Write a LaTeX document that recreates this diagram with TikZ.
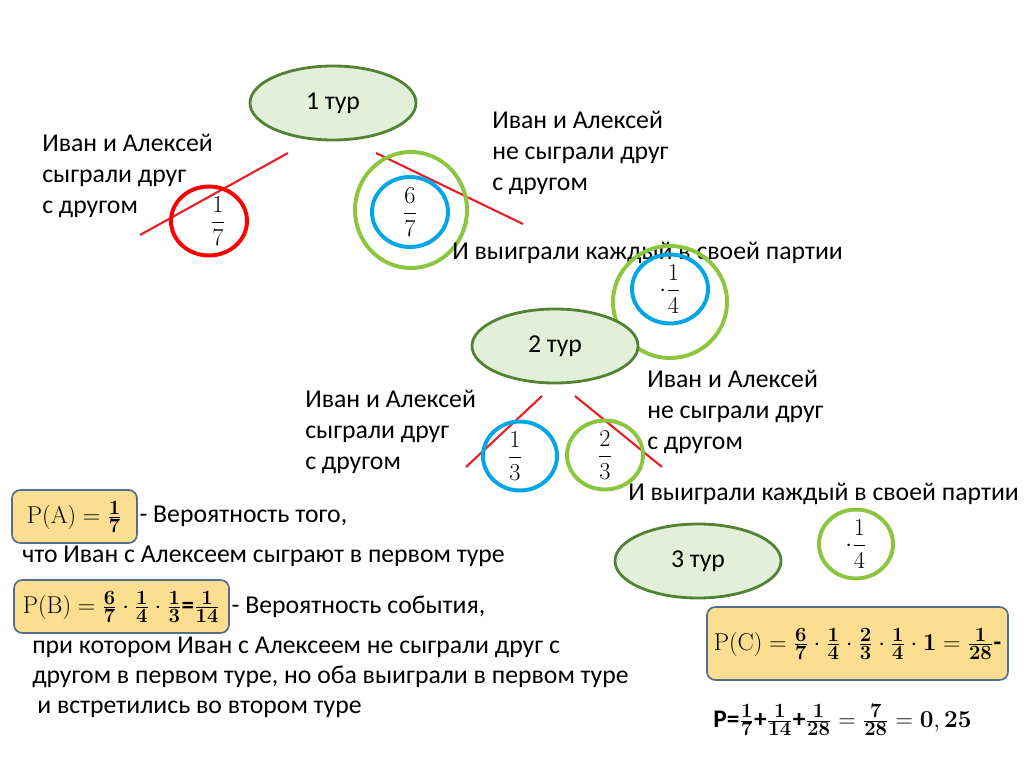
\documentclass[tikz,border=0pt]{standalone}
\usepackage{amsmath}
\usepackage[no-math]{fontspec}
\setmainfont{Carlito}
\usetikzlibrary{shapes.geometric,positioning}
\DeclareMathSizes{17.7}{17.28}{14.4}{10}
\DeclareMathSizes{18}{17.28}{14.4}{10}

\definecolor{turfill}{RGB}{226,240,217}
\definecolor{turrand}{RGB}{84,130,53}
\definecolor{gruen}{RGB}{140,198,63}
\definecolor{blau}{RGB}{0,166,230}
\definecolor{rot}{RGB}{255,0,0}
\definecolor{strichrot}{RGB}{232,30,36}
\definecolor{kastenfill}{RGB}{252,222,145}
\definecolor{kastenrand}{RGB}{84,110,140}

\tikzset{
	schrift/.style={font=\fontsize{18.3}{22}\selectfont},
	tur/.style={ellipse,draw=turrand,fill=turfill,line width=2pt,minimum width=4.15cm,minimum height=1.85cm,schrift},
	beschrift/.style={schrift,align=left,anchor=west,inner sep=0pt},
	kreis/.style={ellipse,line width=2.8pt,inner sep=0pt,font=\fontsize{18}{22}\selectfont},
	strich/.style={strichrot,line width=1.5pt},
	kasten/.style={draw=kastenrand,fill=kastenfill,rounded corners=6pt,line width=1.2pt,inner sep=0pt,font=\fontsize{17.7}{22}\selectfont},
}

\begin{document}
\begin{tikzpicture}[x=0.025cm,y=-0.025cm]
\useasboundingbox (0,0) rectangle (1024,767);
%%% Striche 
	\coordinate (s1a) at (140,235); \coordinate (s1b) at (288,153);
	\coordinate (s2a) at (376,153); \coordinate (s2b) at (523,224);
	\coordinate (s3a) at (466,467); \coordinate (s3b) at (542,396);
	\coordinate (s4a) at (575,396); \coordinate (s4b) at (662,467);
	\draw[strich] (s1a) -- (s1b) ;
	\draw[strich] (s2a) -- (s2b) ;
	\draw[strich] (s3a) -- (s3b) ;
	\draw[strich] (s4a) -- (s4b) ;
%%% 1. Tur
	\node[tur] (tur1) at (333,103) {1 тур};
	\node[beschrift] (links1) at (42,176) {Иван и Алексей\\сыграли друг\\с другом};
	\node[beschrift] (rechts1) at (492,153) {Иван и Алексей\\не сыграли друг\\с другом};
	\node[kreis,draw=rot,minimum width=1.9cm,minimum height=1.7cm] (k17) at (209,221) {\hspace*{0.45cm}$\dfrac{1}{7}$};
	\node[kreis,draw=gruen,minimum width=2.8cm,minimum height=2.9cm] (k67g) at (411,210) {};
	\node[kreis,draw=blau,minimum width=1.9cm,minimum height=1.75cm] (k67) at (410,212) {$\dfrac{6}{7}$};
	\node[beschrift] (sieg1) at (452,253) {И выиграли каждый в своей партии};
	\node[kreis,draw=gruen,minimum width=2.85cm,minimum height=2.8cm] (k14g) at (670,302) {};
	\node[kreis,draw=blau,minimum width=1.9cm,minimum height=1.55cm] (k14) at (670,289) {\raisebox{2pt}{$\cdot\dfrac{1}{4}$}};
%%% 2. Tur
	\node[tur] (tur2) at (555,346) {2 тур};
	\node[beschrift] (links2) at (305,432) {Иван и Алексей\\сыграли друг\\с другом};
	\node[beschrift] (rechts2) at (647,412) {Иван и Алексей\\не сыграли друг\\с другом};
	\node[kreis,draw=blau,minimum width=1.85cm,minimum height=1.7cm] (k13) at (520,456) {\hspace*{-0.25cm}$\dfrac{1}{3}$};
	\node[kreis,draw=gruen,minimum width=1.9cm,minimum height=1.65cm] (k23) at (605,455) {$\dfrac{2}{3}$};
	\node[beschrift] (sieg2) at (628,494) {И выиграли каждый в своей партии};
%%% 3. Tur
	\node[tur] (tur3) at (698,561) {3 тур};
	\node[kreis,draw=gruen,minimum width=1.85cm,minimum height=1.55cm] (k14c) at (856,544) {\raisebox{-3pt}{$\cdot\dfrac{1}{4}$}};
%%% Wahrscheinlichkeiten
	\node[kasten,minimum width=3.125cm,minimum height=1.325cm] (pa) at (74.5,516.5) {$\mathrm{P(A)}=\frac{\mathbf{1}}{\mathbf{7}}$};
	\node[beschrift,inner xsep=1pt] (pat) at (pa.east) {- Вероятность того,};
	\node[beschrift] (pat2) at (22,556) {что Иван с Алексеем сыграют в первом туре};
	\node[kasten,minimum width=5.375cm,minimum height=1.325cm] (pb) at (121.5,606.5) {$\mathrm{P(B)}=\frac{\mathbf{6}}{\mathbf{7}}\cdot\frac{\mathbf{1}}{\mathbf{4}}\cdot\frac{\mathbf{1}}{\mathbf{3}}$\textbf{=}$\frac{\mathbf{1}}{\mathbf{14}}$};
	\node[beschrift,inner xsep=1pt] (pbt) at (pb.east) {- Вероятность события,};
	\node[beschrift,font=\fontsize{18.3}{21.3}\selectfont] (pbt2) at (32,677) {при котором Иван с Алексеем не сыграли друг с\\другом в первом туре, но оба выиграли в первом туре\\\hspace*{0.125cm}и встретились во втором туре};
	\node[kasten,minimum width=7.525cm,minimum height=1.825cm] (pc) at (857.5,643.5) {$\mathrm{P(C)}=\frac{\mathbf{6}}{\mathbf{7}}\cdot\frac{\mathbf{1}}{\mathbf{4}}\cdot\frac{\mathbf{2}}{\mathbf{3}}\cdot\frac{\mathbf{1}}{\mathbf{4}}\cdot\mathbf{1}=\frac{\mathbf{1}}{\mathbf{28}}$\textbf{-}};
	\node[beschrift,font=\fontsize{18}{22}\selectfont] (psum) at (713,720) {\textbf{P=}$\frac{\mathbf{1}}{\mathbf{7}}$\textbf{+}$\frac{\mathbf{1}}{\mathbf{14}}$\textbf{+}$\frac{\mathbf{1}}{\mathbf{28}}=\frac{\mathbf{7}}{\mathbf{28}}=\mathbf{0,25}$};
\end{tikzpicture}
\end{document}
